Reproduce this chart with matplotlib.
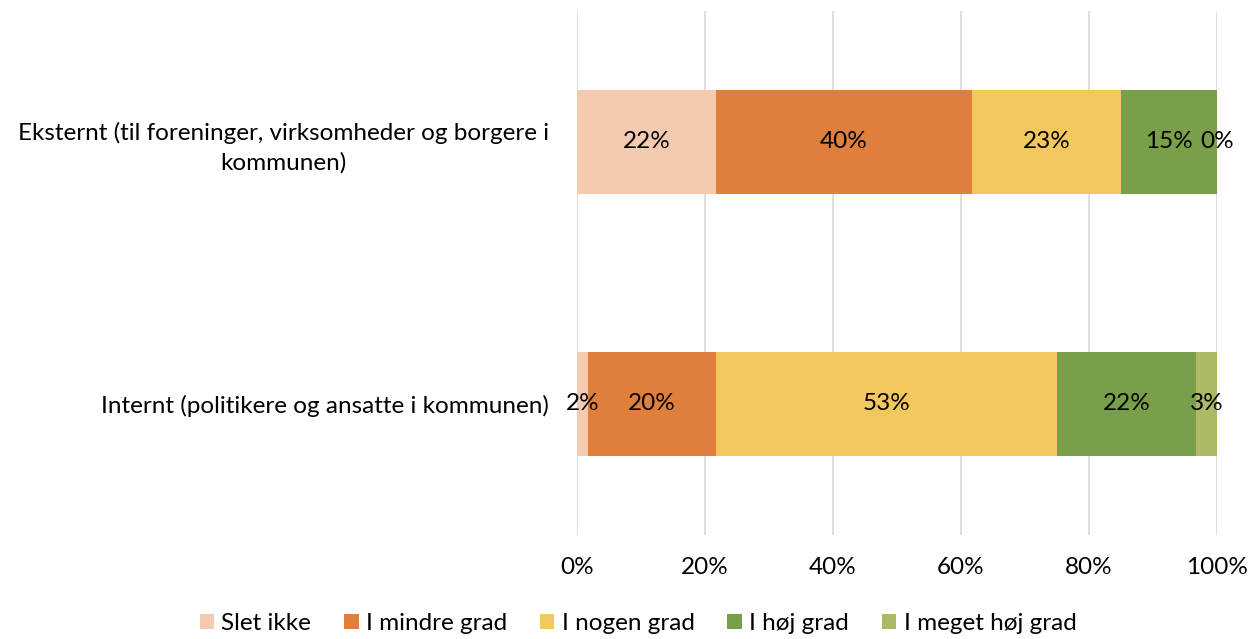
"""Horizontal 100% stacked bars: internal vs external communication."""

import matplotlib.pyplot as plt
import numpy as np

plt.rcParams["font.family"] = ["Lato", "DejaVu Sans"]

CATEGORIES = [
    "Eksternt (til foreninger, virksomheder og borgere i\nkommunen)",
    "Internt (politikere og ansatte i kommunen)",
]
SERIES = ["Slet ikke", "I mindre grad", "I nogen grad", "I høj grad", "I meget høj grad"]
VALUES = {
    "Slet ikke": [21.7, 1.7],
    "I mindre grad": [40.0, 20.0],
    "I nogen grad": [23.3, 53.3],
    "I høj grad": [15.0, 21.7],
    "I meget høj grad": [0.0, 3.3],
}
COLORS = ["#F4CBB1", "#E07E3C", "#F2C75C", "#799F4A", "#AFB865"]
XTICKS = [0, 20, 40, 60, 80, 100]
FS = 17.5

fig = plt.figure(figsize=(12.51, 6.39), dpi=100)
ax = fig.add_axes([0.4612, 0.163, 0.5116, 0.82])

y = np.arange(len(CATEGORIES))[::-1]
left = np.zeros(len(CATEGORIES))
for name, color in zip(SERIES, COLORS):
    vals = np.array(VALUES[name])
    bars = ax.barh(y, vals, left=left, height=0.395, color=color, label=name, zorder=2)
    ax.bar_label(bars, labels=[f"{v:.0f}%" for v in vals], label_type="center",
                 fontsize=FS, color="black")
    left += vals

ax.set_xlim(0, 100)
ax.set_ylim(-0.5, 1.5)
ax.set_xticks(XTICKS)
ax.set_xticklabels([f"{t}%" for t in XTICKS], fontsize=FS)
ax.set_yticks(y)
ax.set_yticklabels(CATEGORIES, fontsize=FS, multialignment="center", linespacing=1.45)
ax.tick_params(axis="both", length=0)
ax.tick_params(axis="x", pad=16)
ax.tick_params(axis="y", pad=20)
ax.grid(axis="x", color="#D9D9D9", linewidth=1.2, zorder=0)
for s in ax.spines.values():
    s.set_visible(False)

fig.legend(loc="lower center", bbox_to_anchor=(0.51, 0.0), ncol=5, frameon=False,
           fontsize=FS, handlelength=0.6, handleheight=0.6, handletextpad=0.3,
           columnspacing=1.35, borderaxespad=0.0, borderpad=0.2)

fig.savefig("out.png", dpi=100)
